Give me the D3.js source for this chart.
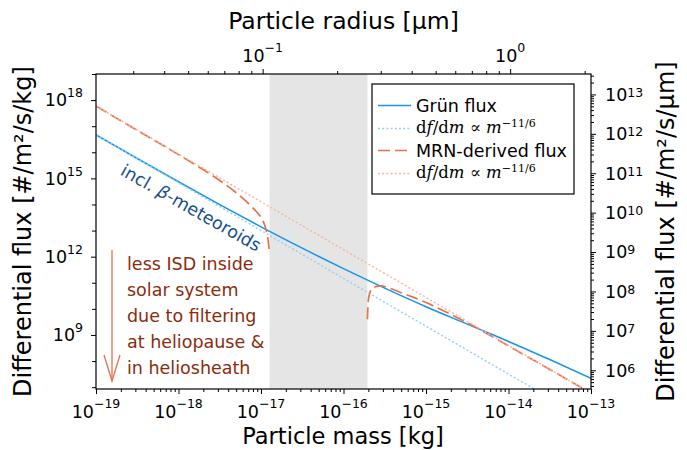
<!DOCTYPE html>
<html>
<head>
<meta charset="utf-8">
<script src="https://cdn.jsdelivr.net/npm/d3@7"></script>
<style>
  body { margin: 0; background: #fff; }
  svg { display: block; font-family: "DejaVu Sans", sans-serif; }
</style>
</head>
<body>
<svg id="chart" width="687" height="450"></svg>
<script>
// Grün interplanetary dust flux, sampled every half decade in mass [kg]
const grunMass = [1e-19, 3.16e-19, 1e-18, 3.16e-18, 1e-17, 3.16e-17, 1e-16,
                  3.16e-16, 1e-15, 3.16e-15, 1e-14, 3.16e-14, 1e-13];
const grunFlux = [4.67e16, 5.79e15, 7.40e14, 9.84e13, 1.39e13, 2.12e12, 3.49e11,
                  6.24e10, 1.21e10, 2.60e9, 5.66e8, 1.14e8, 2.17e7];

// df/dm ∝ m^-11/6 reference line through the small-mass end of the Grün flux
const grunSlopeMass = [1e-19, 1e-13];
const grunSlopeFlux = [4.67e16, 4.67e5];

// MRN-derived interstellar flux: small grains up to the filtered range
const mrnLowMass = [1e-19, 3.16e-19, 1e-18, 1.78e-18, 3.16e-18, 5.01e-18, 7.08e-18,
                    8.91e-18, 1.05e-17, 1.15e-17, 1.23e-17, 1.26e-17];
const mrnLowFlux = [5.89e17, 6.92e16, 8.13e15, 2.69e15, 8.32e14, 2.82e14, 1.07e14,
                    5.01e13, 2.45e13, 1.10e13, 3.47e12, 1.66e12];
// ... and large grains above it
const mrnHighMass = [1.95e-16, 1.995e-16, 2.09e-16, 2.24e-16, 2.51e-16, 2.82e-16, 3.55e-16,
                     5.01e-16, 7.08e-16, 1e-15, 1.58e-15, 3.16e-15, 1e-14, 3.16e-14, 1e-13];
const mrnHighFlux = [3.98e9, 2.0e10, 4.17e10, 6.03e10, 7.24e10, 7.59e10, 6.31e10,
                     4.17e10, 2.75e10, 1.74e10, 8.91e9, 2.95e9, 3.8e8, 4.79e7, 5.89e6];

// df/dm ∝ m^-11/6 reference line for the MRN distribution
const mrnSlopeMass = [1e-19, 1e-13];
const mrnSlopeFlux = [5.89e17, 5.89e6];

// Mass range hidden from the inner solar system (shaded band)
const filteredBand = [1.27e-17, 1.95e-16];

// Axis ranges
const massDomain = [1e-19, 1e-13];
const fluxMassDomain = [8.5e6, 1e19];        // #/m²/s/kg
const fluxRadiusDomain = [3.35e5, 3.3e13];   // #/m²/s/µm
const grainDensity = 2500;                   // kg/m³

const annotationLines = ["less ISD inside", "solar system", "due to filtering",
                         "at heliopause &", "in heliosheath"];

const BLUE = "#1895ee", BLUE_LIGHT = "#93cff6";
const ORANGE = "#e8714d", ORANGE_LIGHT = "#f4b6a0";

const svg = d3.select("#chart");
svg.append("rect").attr("width", 687).attr("height", 450).attr("fill", "#fff");

const X0 = 96, X1 = 591, Y0 = 74, Y1 = 389;

const x = d3.scaleLog().domain(massDomain).range([X0, X1]);
const yL = d3.scaleLog().domain(fluxMassDomain).range([Y1, Y0]);
const yR = d3.scaleLog().domain(fluxRadiusDomain).range([Y1, Y0]);
const radiusOf = m => Math.cbrt(3 * m / (4 * Math.PI * grainDensity)) * 1e6; // µm
const xTop = d3.scaleLog().domain(massDomain.map(radiusOf)).range([X0, X1]);

svg.append("clipPath").attr("id", "plotClip")
  .append("rect").attr("x", X0).attr("y", Y0).attr("width", X1 - X0).attr("height", Y1 - Y0);

const plot = svg.append("g").attr("clip-path", "url(#plotClip)");

// shaded band
plot.append("rect")
  .attr("x", x(filteredBand[0])).attr("y", Y0)
  .attr("width", x(filteredBand[1]) - x(filteredBand[0]))
  .attr("height", Y1 - Y0)
  .attr("fill", "#e5e5e5");

const zip = (a, b) => a.map((v, i) => [v, b[i]]);
const line = d3.line().x(d => x(d[0])).y(d => yL(d[1])).curve(d3.curveMonotoneX);

const series = [
  { data: zip(grunMass, grunFlux), color: BLUE, width: 1.6, dash: null },
  { data: zip(grunSlopeMass, grunSlopeFlux), color: BLUE_LIGHT, width: 1.4, dash: "2,2.2" },
  { data: zip(mrnLowMass, mrnLowFlux), color: ORANGE, width: 1.7, dash: "12,5" },
  { data: zip(mrnHighMass, mrnHighFlux), color: ORANGE, width: 1.7, dash: "12,5" },
  { data: zip(mrnSlopeMass, mrnSlopeFlux), color: ORANGE_LIGHT, width: 1.4, dash: "2,2.2" }
];
series.forEach(s => {
  plot.append("path")
    .attr("d", line(s.data))
    .attr("fill", "none")
    .attr("stroke", s.color)
    .attr("stroke-width", s.width)
    .attr("stroke-dasharray", s.dash);
});

// ---- axes ----
function logTicks(lo, hi) {
  const major = [], minor = [];
  for (let k = Math.floor(Math.log10(lo)) - 1; k <= Math.ceil(Math.log10(hi)); k++) {
    for (let j = 1; j < 10; j++) {
      const v = j * Math.pow(10, k);
      if (v < lo * 0.9999 || v > hi * 1.0001) continue;
      (j === 1 ? major : minor).push(v);
    }
  }
  return { major, minor };
}
const expOf = v => Math.round(Math.log10(v));
const fmtExp = e => (e < 0 ? "\u2212" + (-e) : "" + e);

function styleAxis(g) {
  g.select(".domain").remove();
  g.selectAll(".tick line").attr("stroke", "#000").attr("stroke-width", 1);
  g.selectAll(".tick text").remove();
}

function powerLabel(parent, px, py, e, anchor, raise, baseSize, supSize) {
  const t = parent.append("text")
    .attr("x", px).attr("y", py)
    .attr("text-anchor", anchor)
    .attr("font-size", baseSize)
    .attr("fill", "#000");
  t.append("tspan").text("10");
  t.append("tspan").attr("dy", -raise).attr("font-size", supSize).text(fmtExp(e));
  return t;
}

// bottom: particle mass
const bt = logTicks(...massDomain);
svg.append("g").attr("transform", `translate(0,${Y1})`)
  .call(d3.axisBottom(x).tickValues(bt.minor).tickSize(3).tickFormat(""))
  .call(styleAxis);
svg.append("g").attr("transform", `translate(0,${Y1})`)
  .call(d3.axisBottom(x).tickValues(bt.major).tickSize(5).tickFormat(""))
  .call(styleAxis);
bt.major.forEach(v => powerLabel(svg, x(v), 418, expOf(v), "middle", 10, 17.5, 12.5));

// top: particle radius
const tt = logTicks(...xTop.domain());
svg.append("g").attr("transform", `translate(0,${Y0})`)
  .call(d3.axisTop(xTop).tickValues(tt.minor).tickSize(3).tickFormat(""))
  .call(styleAxis);
svg.append("g").attr("transform", `translate(0,${Y0})`)
  .call(d3.axisTop(xTop).tickValues(tt.major).tickSize(5).tickFormat(""))
  .call(styleAxis);
tt.major.forEach(v => powerLabel(svg, xTop(v), 62, expOf(v), "middle", 10, 17.5, 12.5));

// left: flux per kg (labels every third decade)
const lt = logTicks(...fluxMassDomain).major;
const leftLabelled = lt.filter(v => expOf(v) % 3 === 0);
svg.append("g").attr("transform", `translate(${X0},0)`)
  .call(d3.axisLeft(yL).tickValues(lt.filter(v => expOf(v) % 3 !== 0)).tickSize(4).tickFormat(""))
  .call(styleAxis);
svg.append("g").attr("transform", `translate(${X0},0)`)
  .call(d3.axisLeft(yL).tickValues(leftLabelled).tickSize(5).tickFormat(""))
  .call(styleAxis);
leftLabelled.forEach(v => powerLabel(svg, 83, yL(v) + 6.3, expOf(v), "end", 9, 17.5, 12.5));

// right: flux per µm
const rt = logTicks(...fluxRadiusDomain);
svg.append("g").attr("transform", `translate(${X1},0)`)
  .call(d3.axisRight(yR).tickValues(rt.minor).tickSize(3).tickFormat(""))
  .call(styleAxis);
svg.append("g").attr("transform", `translate(${X1},0)`)
  .call(d3.axisRight(yR).tickValues(rt.major).tickSize(5).tickFormat(""))
  .call(styleAxis);
rt.major.forEach(v => powerLabel(svg, 605, yR(v) + 6.3, expOf(v), "start", 4, 17.5, 12.5));

// frame
svg.append("rect")
  .attr("x", X0).attr("y", Y0).attr("width", X1 - X0).attr("height", Y1 - Y0)
  .attr("fill", "none").attr("stroke", "#000").attr("stroke-width", 1.2);

// axis titles
svg.append("text").attr("x", (X0 + X1) / 2 - 0.5).attr("y", 444)
  .attr("text-anchor", "middle").attr("font-size", 22.5).text("Particle mass [kg]");
svg.append("text").attr("x", (X0 + X1) / 2).attr("y", 29)
  .attr("text-anchor", "middle").attr("font-size", 23.5).text("Particle radius [µm]");
svg.append("text").attr("transform", `translate(31,${(Y0 + Y1) / 2}) rotate(-90)`)
  .attr("text-anchor", "middle").attr("font-size", 24).text("Differential flux [#/m²/s/kg]");
svg.append("text").attr("transform", `translate(674,${(Y0 + Y1) / 2}) rotate(-90)`)
  .attr("text-anchor", "middle").attr("font-size", 24).text("Differential flux [#/m²/s/µm]");

// ---- legend ----
const lg = svg.append("g");
lg.append("rect").attr("x", 372).attr("y", 84).attr("width", 202).attr("height", 110)
  .attr("fill", "#fff").attr("stroke", "#000").attr("stroke-width", 1.2);
const legendRows = [
  { y: 105.5, color: BLUE, width: 1.6, dash: null, label: "Grün flux" },
  { y: 128.5, color: BLUE_LIGHT, width: 1.4, dash: "2,2.2", label: null },
  { y: 150.5, color: ORANGE, width: 1.7, dash: "12,5", label: "MRN-derived flux" },
  { y: 173.5, color: ORANGE_LIGHT, width: 1.4, dash: "2,2.2", label: null }
];
legendRows.forEach(r => {
  lg.append("line").attr("x1", 378).attr("x2", 411).attr("y1", r.y).attr("y2", r.y)
    .attr("stroke", r.color).attr("stroke-width", r.width).attr("stroke-dasharray", r.dash);
  if (r.label) {
    lg.append("text").attr("x", 416).attr("y", r.y + 6).attr("font-size", 17.5).text(r.label);
  } else {
    const t = lg.append("text").attr("x", 416).attr("y", r.y + 4.5)
      .attr("font-family", "'DejaVu Serif', serif").attr("font-size", 16.5);
    t.append("tspan").text("d");
    t.append("tspan").attr("font-style", "italic").text("f");
    t.append("tspan").text("/d");
    t.append("tspan").attr("font-style", "italic").text("m");
    t.append("tspan").text(" \u221D ");
    t.append("tspan").attr("font-style", "italic").text("m");
    t.append("tspan").attr("dy", -6.5).attr("font-size", 11).text("\u221211/6");
  }
});

// ---- annotations ----
const beta = svg.append("text")
  .attr("transform", "translate(191,208) rotate(29.5)")
  .attr("text-anchor", "middle").attr("dominant-baseline", "central")
  .attr("font-size", 17.5).attr("fill", "#174f8c");
beta.append("tspan").text("incl. ");
beta.append("tspan").attr("font-style", "italic").text("\u03B2");
beta.append("tspan").text("-meteoroids");

annotationLines.forEach((s, i) => {
  svg.append("text").attr("x", 127).attr("y", 270 + i * 26.1)
    .attr("font-size", 17.5).attr("fill", "#8b2c0c").text(s);
});

const arrow = svg.append("g").attr("stroke", ORANGE).attr("stroke-width", 1.3).attr("fill", "none");
arrow.append("line").attr("x1", 112).attr("x2", 112).attr("y1", 250).attr("y2", 381);
arrow.append("polyline").attr("points", "104,355 112,381 120,355");
</script>
</body>
</html>
